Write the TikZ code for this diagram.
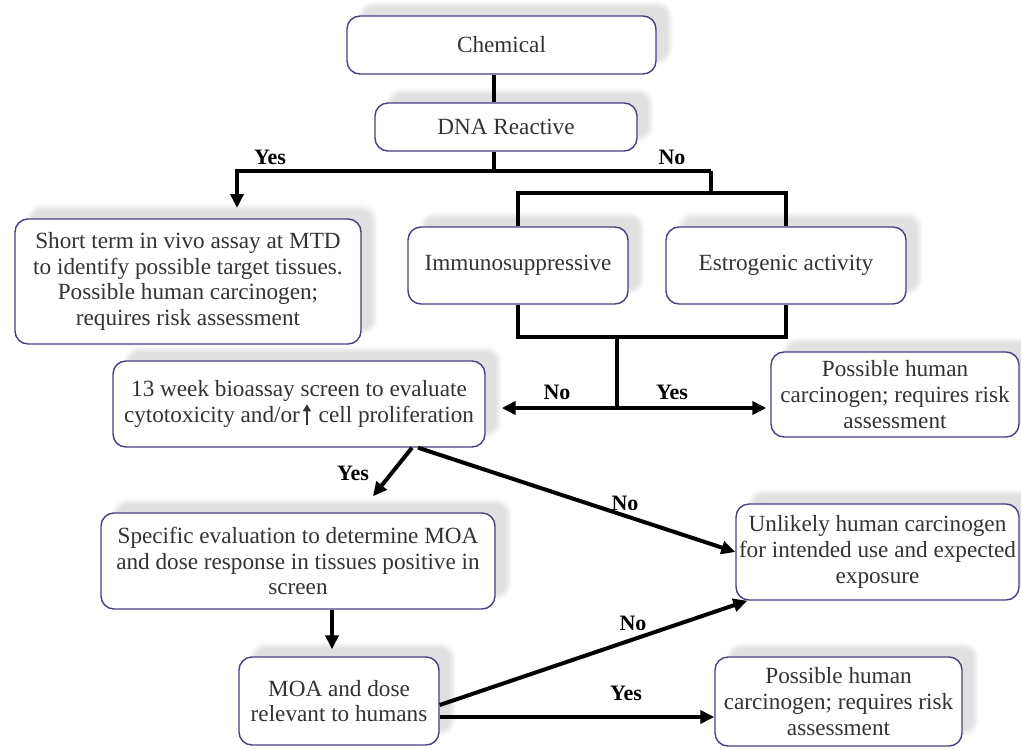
\documentclass[tikz,border=0pt]{standalone}
\usepackage{fontspec}
\setmainfont{Liberation Serif}
\usetikzlibrary{arrows.meta,shadows.blur}

\definecolor{boxline}{RGB}{72,62,130}

\newcommand{\uparr}{\tikz[baseline=0pt]\draw[line width=0.8pt, -{Triangle[length=3.5pt,width=4pt]}] (0,-1.5pt) -- (0,9pt);}

\tikzset{
  box/.style={draw=boxline, line width=0.7pt, rounded corners=6.5pt, fill=white,
    align=center, inner sep=0pt, text=black!80,
    font=\fontsize{11.6}{12.8}\selectfont,
    blur shadow={shadow xshift=7pt, shadow yshift=6pt, shadow opacity=12, shadow blur steps=6}},
  conn/.style={line width=2pt, draw=black},
  arr/.style={conn, -{Triangle[length=7pt,width=6.5pt]}},
  lbl/.style={font=\fontsize{11}{12}\selectfont\bfseries, inner sep=0pt},
}

\begin{document}
\begin{tikzpicture}[x=0.5pt, y=-0.5pt]

	\useasboundingbox (0,0) rectangle (1021,749);

	% boxes
	\node[box, minimum width=154.5pt, minimum height=29pt] (chem) at (501.5,45) {Chemical};
	\node[box, minimum width=131pt, minimum height=24pt] (dna) at (506,127) {DNA Reactive};
	\node[box, minimum width=173pt, minimum height=62.5pt] (short) at (188,281.5)
		{Short term in vivo assay at MTD\\to identify possible target tissues.\\Possible human carcinogen;\\requires risk assessment};
	\node[box, minimum width=110pt, minimum height=38.5pt] (immuno) at (518,265.5) {Immunosuppressive};
	\node[box, minimum width=120pt, minimum height=38.5pt] (estro) at (786,265.5) {Estrogenic activity};
	\node[box, minimum width=186pt, minimum height=43pt] (wk13) at (299,404)
		{13 week bioassay screen to evaluate\\cytotoxicity and/or\kern1.5pt\uparr\kern1pt{} cell proliferation};
	\node[box, minimum width=124pt, minimum height=42.5pt] (posA) at (895,394.5)
		{Possible human\\carcinogen; requires risk\\assessment};
	\node[box, minimum width=197pt, minimum height=48pt] (spec) at (298,561)
		{Specific evaluation to determine MOA\\and dose response in tissues positive in\\screen};
	\node[box, minimum width=141.5pt, minimum height=48pt] (unlikely) at (877.5,552)
		{Unlikely human carcinogen\\for intended use and expected\\exposure};
	\node[box, minimum width=100pt, minimum height=44pt] (moa) at (339,701)
		{MOA and dose\\relevant to humans};
	\node[box, minimum width=123.5pt, minimum height=44.5pt] (posB) at (838.5,701.5)
		{Possible human\\carcinogen; requires risk\\assessment};

	% DNA reactive split
	\coordinate (trunk) at (494,171);
	\coordinate (yesend) at (237,171);
	\coordinate (yestip) at (237,208);
	\coordinate (noend) at (711,171);
	\coordinate (split) at (711,193);
	\draw[conn] (chem.south -| trunk) -- (dna.north -| trunk);
	\draw[conn] (dna.south -| trunk) -- (trunk);
	\draw[arr] (noend) -- (yesend) -- (yestip);
	\draw[conn] (noend) -- (split);
	\draw[conn] (immuno.north) |- (split) -| (estro.north);

	% immuno / estrogenic
	\coordinate (merge) at (617,337);
	\coordinate (fork) at (617,408);
	\draw[conn] (immuno.south) |- (merge) -| (estro.south);
	\draw[conn] (merge) -- (fork);
	\draw[arr, shorten >=8pt] (fork) -- (wk13.east |- fork);
	\draw[arr, shorten >=2pt] (fork) -- (posA.west |- fork);

	% bioassay
	\draw[arr] ([xshift=56.5pt]wk13.south) -- ([xshift=37.5pt,yshift=8pt]spec.north);
	\draw[arr] ([xshift=59.5pt]wk13.south) -- (unlikely.west);
	\draw[arr, shorten >=3.5pt] ([xshift=-3.5pt]spec.south -| moa.north) -- ([xshift=-3.5pt]moa.north);
	\draw[arr] ([yshift=-2pt]moa.east) -- ([xshift=6pt]unlikely.south west);
	\draw[arr] ([yshift=-8pt]moa.east) -- ([yshift=-8pt]moa.east -| posB.west);

	% labels
	\node[lbl] (yesA) at (270,157) {Yes};
	\node[lbl] (noA) at (672,157) {No};
	\node[lbl] (noB) at (557,392) {No};
	\node[lbl] (yesB) at (672,392) {Yes};
	\node[lbl] (yesC) at (353,473) {Yes};
	\node[lbl] (noC) at (625,503) {No};
	\node[lbl] (noD) at (633,623) {No};
	\node[lbl] (yesD) at (626,693) {Yes};

\end{tikzpicture}
\end{document}
